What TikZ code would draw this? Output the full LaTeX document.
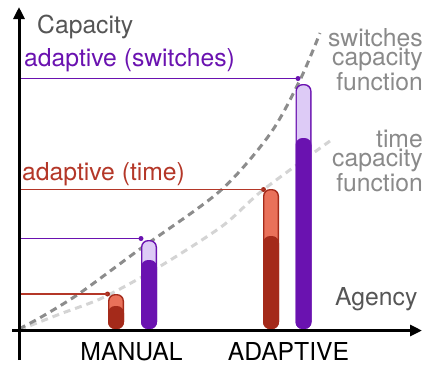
\documentclass[tikz,border=0pt]{standalone}
\usepackage{fontspec}
\setmainfont{TeX Gyre Heros}
\usetikzlibrary{arrows.meta}
\definecolor{capurple}{RGB}{106,18,176}
\definecolor{purlt}{RGB}{221,203,246}
\definecolor{reddk}{RGB}{164,42,26}
\definecolor{redlt}{RGB}{233,113,90}
\definecolor{redln}{RGB}{180,55,40}
\definecolor{capgrey}{RGB}{85,85,85}
\definecolor{fgrey}{RGB}{138,138,138}
\definecolor{dashdk}{RGB}{140,140,140}
\definecolor{dashlt}{RGB}{212,212,212}

\begin{document}
\begin{tikzpicture}[x=1pt,y=-1pt,
  txt/.style={font=\fontsize{24.7}{19.5}\selectfont,inner sep=0pt},
  ax/.style={line width=3pt,-{Triangle[length=12pt,width=11pt]}},
  lvl/.style={line width=1.3pt},
  dot/.style={circle,fill,inner sep=0pt,minimum size=5pt},
  crv/.style={line width=3pt,dash pattern=on 7pt off 5pt}]
\useasboundingbox (0,0) rectangle (422,368);
% capacity functions
\draw[crv,dashlt] plot[smooth] coordinates {(19,330) (60,314) (100,299) (140,278) (180,254) (225,224) (263,190) (330,141)};
\draw[crv,dashdk] plot[smooth] coordinates {(19,329) (43,316) (80,293) (140,249) (220,191) (270,134) (300,80) (320,33)};
% bars
\foreach \x/\t/\m/\lt/\dk in {108/294/306/redlt/reddk, 141/240/260/purlt/capurple,
    263/189/236/redlt/reddk, 295.5/84/138/purlt/capurple}{
  \fill[\dk,rounded corners=7pt] (\x,329) rectangle ({\x+16},\t);
  \fill[\lt,rounded corners=6pt] ({\x+1.4},329) rectangle ({\x+14.6},{\t+1.4});
  \fill[\dk,rounded corners=7pt] (\x,329) rectangle ({\x+16},\m);
}
% axes
\coordinate (ybot) at (19,360); \coordinate (ytop) at (19,7);
\coordinate (xl) at (12,330.5); \coordinate (xr) at (422,330.5);
\draw[ax] (ybot) -- (ytop);
\draw[ax] (xl) -- (xr);
% levels
\node[dot,reddk] (dman) at (107.5,294) {};
\node[dot,capurple] (pman) at (141,238.5) {};
\node[dot,reddk] (dada) at (263.5,189.5) {};
\node[dot,capurple] (pada) at (298,78.5) {};
\coordinate (ldman) at (21,294); \coordinate (lpman) at (21,238.5);
\coordinate (ldada) at (21,189.5); \coordinate (lpada) at (21,78.5);
\draw[lvl,redln] (ldman) -- (dman.center);
\draw[lvl,capurple] (lpman) -- (pman.center);
\draw[lvl,redln] (ldada) -- (dada.center);
\draw[lvl,capurple] (lpada) -- (pada.center);
% labels
\node[txt,text=capgrey,anchor=base west] (cap) at (37,33) {Capacity};
\node[txt,text=capurple,anchor=base west] (swl) at (24,66.5) {adaptive (switches)};
\node[txt,text=redln,anchor=base west] (tml) at (22,180) {adaptive (time)};
\node[txt,text=capgrey,anchor=base west] (ag) at (335,305.5) {Agency};
\node[txt,anchor=base] (man) at (131.5,360) {MANUAL};
\node[txt,anchor=base] (ada) at (288.5,360) {ADAPTIVE};
\node[txt,text=fgrey,align=right,anchor=north east] (swf) at (423,28) {switches\\capacity\\function};
\node[txt,text=fgrey,align=right,anchor=north east] (tmf) at (423,129.5) {time\\capacity\\function};
\end{tikzpicture}
\end{document}
